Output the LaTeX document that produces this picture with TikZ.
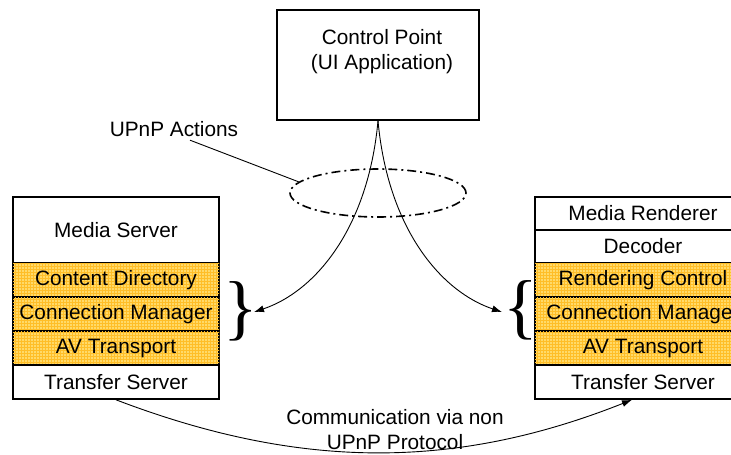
\documentclass[tikz,border=0pt]{standalone}
\usepackage{fontspec}
\setmainfont{Liberation Sans}
\newfontfamily\bracefont{Liberation Serif}
\usepackage{tikz}
\usetikzlibrary{arrows.meta,patterns,shapes.geometric,calc}
\definecolor{svcfill}{RGB}{255,218,105}
\definecolor{svcgrid}{RGB}{255,190,40}
\tikzset{layer/.style={draw,line width=1.6pt,minimum width=206pt,minimum height=34pt,inner sep=0pt},
 service/.style={layer,fill=svcfill,postaction={pattern=grid,pattern color=svcgrid}},
 rlayer/.style={layer,minimum width=216pt},
 rservice/.style={service,minimum width=216pt},
 bracemark/.style={inner sep=0pt,font=\bracefont\fontsize{72}{72}\selectfont},
 call/.style={-{Latex[length=10pt,width=7pt]},line width=0.9pt},
 }

\begin{document}
\begin{tikzpicture}[x=1pt,y=-1pt,font=\fontsize{20.8}{25}\selectfont]
        \useasboundingbox (0,0) rectangle (731,455);
        \node[draw,line width=1.6pt,minimum width=202pt,minimum height=110pt] (cp) at (378,65) {};
        \node[align=center] (cptext) at (382,52) {Control Point\\(UI Application)};
        \node[layer,minimum height=66pt] (ms) at (116,230) {Media Server};
        \node[service] (cd) at (116,280) {Content Directory};
        \node[service] (lcm) at (116,314) {Connection Manager};
        \node[service] (lav) at (116,348) {AV Transport};
        \node[layer] (lts) at (116,382) {Transfer Server};
        \node[rlayer,minimum height=33pt] (mr) at (643,213.5) {Media Renderer};
        \node[rlayer,minimum height=33pt] (dec) at (643,246.5) {Decoder};
        \node[rservice] (rc) at (643,280) {Rendering Control};
        \node[rservice] (rcm) at (643,314) {Connection Manager};
        \node[rservice] (rav) at (643,348) {AV Transport};
        \node[rlayer] (rts) at (643,382) {Transfer Server};
        \node[bracemark] (lbrace) at (241,311) {\}};
        \node[bracemark] (rbrace) at (521,310) {\{};
        \coordinate (ltip) at (254,312);
        \coordinate (rtip) at (502,312);
        \node[draw,ellipse,dash pattern=on 9pt off 4pt on 2pt off 4pt,line width=1.6pt,
            minimum width=176pt,minimum height=48pt,inner sep=0pt] (acts) at (378,193) {};
        \node (actlbl) at (174,129) {UPnP Actions};
        \draw[line width=0.9pt] (actlbl.-35) -- (acts.172);
        \draw[call] (cp.south) .. controls (368,230) and (314,292) .. (ltip);
        \draw[call] (cp.south) .. controls (388,230) and (442,292) .. (rtip);
        \draw[call] (lts.south) .. controls (300,470) and (455,470) .. ($(rts.south)+(-11,0)$);
        \node[align=center] (viatext) at (395,430) {Communication via non\\UPnP Protocol};
    \end{tikzpicture}
\end{document}
